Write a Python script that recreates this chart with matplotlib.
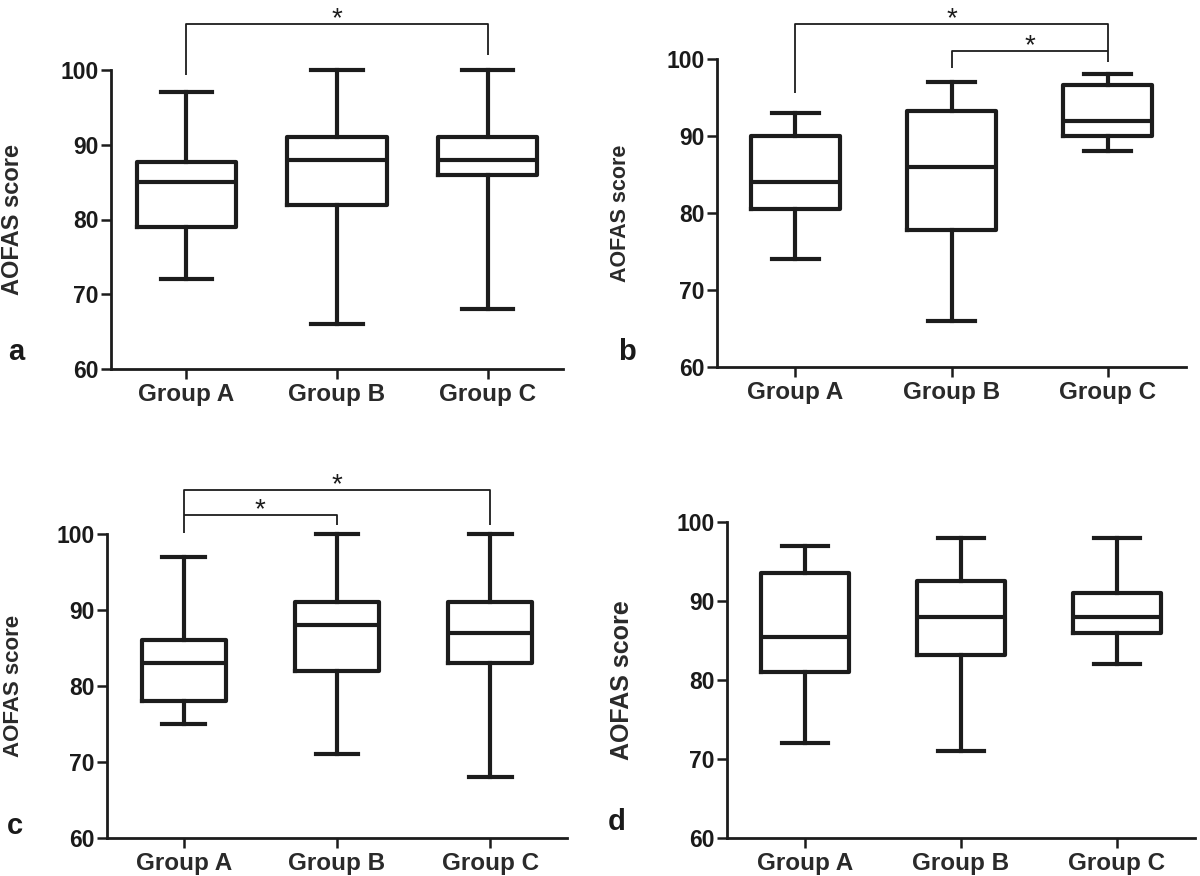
import matplotlib
matplotlib.use("Agg")
import matplotlib.pyplot as plt

plt.rcParams['font.family'] = ['Liberation Sans', 'DejaVu Sans']

groups = ['Group A', 'Group B', 'Group C']
yticks = [60, 70, 80, 90, 100]

# box statistics, one list per panel
a_lo = [72, 66, 68]
a_q1 = [79, 82, 86]
a_med = [85, 88, 88]
a_q3 = [87.7, 91, 91]
a_hi = [97, 100, 100]

b_lo = [74, 66, 88]
b_q1 = [80.5, 77.8, 90]
b_med = [84, 86, 92]
b_q3 = [90, 93.3, 96.6]
b_hi = [93, 97, 98]

c_lo = [75, 71, 68]
c_q1 = [78, 82, 83]
c_med = [83, 88, 87]
c_q3 = [86, 91, 91]
c_hi = [97, 100, 100]

d_lo = [72, 71, 82]
d_q1 = [81, 83.2, 86]
d_med = [85.5, 88, 88]
d_q3 = [93.5, 92.5, 91]
d_hi = [97, 98, 98]

# significance brackets: (group1, group2, bar y, end y at group1, end y at group2)
a_sig = [(1, 3, 106.1, 99.3, 102.0)]
b_sig = [(1, 3, 104.6, 95.6, 99.6), (2, 3, 101.0, 98.8, 101.0)]
c_sig = [(1, 3, 105.8, 100.1, 101.2), (1, 2, 102.5, 102.5, 101.2)]
d_sig = []

W, H = 1200, 876
INK = '#1c1c1c'


def rect(L, R, T, B):
    return [L / W, 1 - B / H, (R - L) / W, (B - T) / H]


def panel(fig, box, lo, q1, med, q3, hi, sig, letter, letter_xy,
          ylab_x, ylab_size, bw, cw):
    ax = fig.add_axes(box)
    stats = []
    for i in range(len(groups)):
        stats.append(dict(whislo=lo[i], q1=q1[i], med=med[i], q3=q3[i],
                          whishi=hi[i], fliers=[]))
    lp = dict(color=INK, linewidth=3.0)
    bp = ax.bxp(stats, positions=[1, 2, 3], widths=bw, capwidths=cw,
                showfliers=False, boxprops=lp, whiskerprops=lp,
                capprops=lp, medianprops=lp)
    for k in bp:
        for art in bp[k]:
            art.set_clip_on(False)

    for g1, g2, y, e1, e2 in sig:
        ax.plot([g1, g1, g2, g2], [e1, y, y, e2], color=INK, lw=1.3,
                clip_on=False, solid_capstyle='butt')
        ax.text((g1 + g2) / 2, y - 0.3, '*', ha='center', va='baseline',
                fontsize=20, color=INK)

    ax.set_xlim(0.5, 3.5)
    ax.set_ylim(60, 100)
    ax.set_yticks(yticks)
    ax.set_xticks([1, 2, 3])
    ax.set_xticklabels(groups, fontsize=17.5, fontweight='bold', color='#2a2a2a')
    for t in ax.get_yticklabels():
        t.set_fontsize(16.5)
        t.set_fontweight('bold')
        t.set_color('#1a1a1a')
    for s in ['top', 'right']:
        ax.spines[s].set_visible(False)
    for s in ['left', 'bottom']:
        ax.spines[s].set_linewidth(2.0)
        ax.spines[s].set_color(INK)
    ax.tick_params(axis='y', direction='out', length=7, width=1.8,
                   color=INK, pad=2)
    ax.tick_params(axis='x', direction='out', length=7, width=1.8,
                   color=INK, pad=3)
    ax.patch.set_alpha(0)

    yc = box[1] + box[3] / 2
    fig.text(ylab_x / W, yc, 'AOFAS score', rotation=90, ha='center',
             va='center', fontsize=ylab_size, fontweight='bold',
             color='#2a2a2a')
    fig.text(letter_xy[0] / W, 1 - letter_xy[1] / H, letter, ha='center',
             va='center', fontsize=21, fontweight='bold', color='#1a1a1a')
    return ax


fig = plt.figure(figsize=(12, 8.76), dpi=100)

panel(fig, rect(111, 563, 70, 369), a_lo, a_q1, a_med, a_q3, a_hi, a_sig,
      'a', (16, 352), 13, 17, 0.66, 0.34)
panel(fig, rect(717, 1186, 59, 367), b_lo, b_q1, b_med, b_q3, b_hi, b_sig,
      'b', (627, 352), 621, 15.5, 0.57, 0.30)
panel(fig, rect(107, 567, 534, 838), c_lo, c_q1, c_med, c_q3, c_hi, c_sig,
      'c', (15, 826), 14, 16, 0.55, 0.28)
panel(fig, rect(727, 1195, 522, 838), d_lo, d_q1, d_med, d_q3, d_hi, d_sig,
      'd', (617, 822), 622, 18, 0.57, 0.29)

fig.savefig('out.png', dpi=100)
